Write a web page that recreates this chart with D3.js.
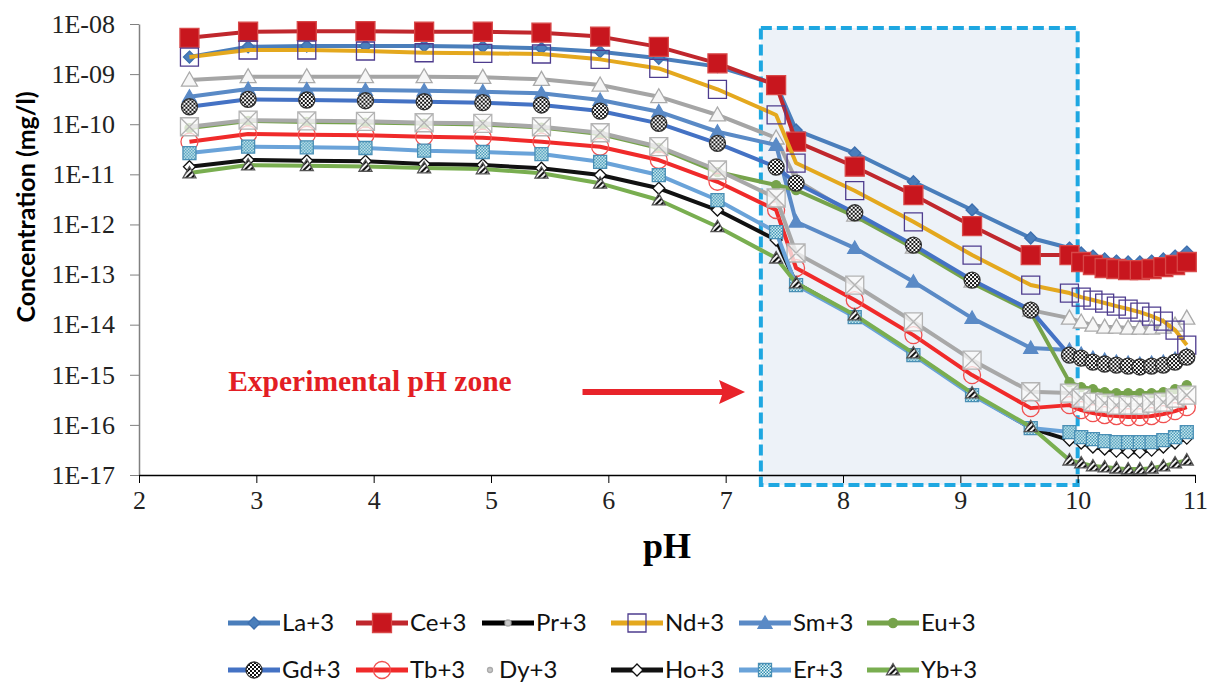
<!DOCTYPE html>
<html>
<head>
<meta charset="utf-8">
<script src="https://cdn.jsdelivr.net/npm/d3@7"></script>
<style>
  body { margin: 0; background: #fff; }
</style>
</head>
<body>
<svg id="chart" width="1214" height="688"></svg>
<script>
// pH values of the calculated points
const pH = [2.43, 2.93, 3.43, 3.93, 4.43, 4.93, 5.43, 5.93, 6.43, 6.93, 7.43, 7.6, 8.1, 8.6, 9.1, 9.6,
  9.93, 10.03, 10.13, 10.23, 10.33, 10.43, 10.53, 10.63, 10.73, 10.83, 10.93];

// concentrations (mg/l), one array per ion
const la = [2.19e-9, 3.52e-9, 3.64e-9, 3.64e-9, 3.64e-9, 3.52e-9, 3.27e-9, 2.80e-9, 2.07e-9, 1.41e-9, 6.3e-10, 7.66e-11, 2.66e-11, 7.11e-12, 1.94e-12, 5.36e-13,
  3.38e-13, 2.69e-13, 2.34e-13, 2.04e-13, 1.86e-13, 1.78e-13, 1.78e-13, 1.86e-13, 2.04e-13, 2.34e-13, 2.81e-13];
const ce = [5.3e-9, 7.0e-9, 7.2e-9, 7.2e-9, 7.0e-9, 7.0e-9, 6.7e-9, 5.6e-9, 3.5e-9, 1.64e-9, 6.05e-10, 4.48e-11, 1.42e-11, 3.86e-12, 9.29e-13, 2.45e-13,
  2.45e-13, 1.78e-13, 1.55e-13, 1.35e-13, 1.29e-13, 1.23e-13, 1.23e-13, 1.29e-13, 1.41e-13, 1.55e-13, 1.78e-13];
const pr = [7.62e-10, 8.87e-10, 8.87e-10, 8.87e-10, 8.87e-10, 8.63e-10, 7.87e-10, 6.05e-10, 3.54e-10, 1.53e-10, 5.31e-11, 7.71e-12, 1.54e-12, 3.54e-13, 7.41e-14, 1.95e-14,
  1.35e-14, 1.13e-14, 9.8e-15, 8.95e-15, 8.95e-15, 8.55e-15, 8.55e-15, 8.55e-15, 8.95e-15, 9.8e-15, 1.35e-14];
const nd = [2.19e-9, 3.03e-9, 3.03e-9, 2.89e-9, 2.67e-9, 2.60e-9, 2.52e-9, 1.97e-9, 1.30e-9, 4.98e-10, 1.53e-10, 1.68e-11, 4.71e-12, 1.13e-12, 2.45e-13, 6.17e-14,
  4.27e-14, 3.55e-14, 3.10e-14, 2.70e-14, 2.35e-14, 2.05e-14, 1.78e-14, 1.48e-14, 1.18e-14, 7.8e-15, 3.92e-15];
const sm = [3.54e-10, 5.05e-10, 4.93e-10, 4.82e-10, 4.67e-10, 4.46e-10, 4.14e-10, 3.04e-10, 1.78e-10, 7.08e-11, 3.85e-11, 1.13e-12, 3.38e-13, 7.18e-14, 1.35e-14, 3.41e-15,
  3.11e-15, 2.59e-15, 2.15e-15, 1.96e-15, 1.79e-15, 1.71e-15, 1.64e-15, 1.71e-15, 1.79e-15, 2.06e-15, 2.47e-15];
const eu = [8.39e-11, 1.16e-10, 1.11e-10, 1.08e-10, 1.03e-10, 9.86e-11, 8.59e-11, 6.37e-11, 3.35e-11, 1.11e-11, 6.11e-12, 4.86e-12, 1.47e-12, 3.38e-13, 6.76e-14, 1.78e-14,
  7.14e-16, 5.68e-16, 5.18e-16, 4.52e-16, 4.31e-16, 4.31e-16, 4.31e-16, 4.31e-16, 4.52e-16, 5.18e-16, 6.22e-16];
const gd = [2.23e-10, 3.14e-10, 3.04e-10, 2.94e-10, 2.81e-10, 2.69e-10, 2.42e-10, 1.83e-10, 1.04e-10, 4.16e-11, 1.40e-11, 6.70e-12, 1.71e-12, 3.88e-13, 7.76e-14, 1.95e-14,
  2.47e-15, 2.15e-15, 1.79e-15, 1.64e-15, 1.56e-15, 1.49e-15, 1.43e-15, 1.49e-15, 1.56e-15, 1.79e-15, 2.25e-15];
const tb = [4.48e-11, 6.37e-11, 6.17e-11, 6.00e-11, 5.62e-11, 5.38e-11, 4.48e-11, 3.56e-11, 1.93e-11, 7.11e-12, 1.94e-12, 1.35e-13, 3.10e-14, 6.19e-15, 9.86e-16, 2.16e-16,
  2.48e-16, 1.97e-16, 1.72e-16, 1.57e-16, 1.50e-16, 1.43e-16, 1.43e-16, 1.50e-16, 1.64e-16, 1.88e-16, 2.26e-16];
const dy = [8.91e-11, 1.21e-10, 1.17e-10, 1.14e-10, 1.07e-10, 1.04e-10, 8.91e-11, 6.76e-11, 3.56e-11, 1.22e-11, 3.37e-12, 2.69e-13, 6.17e-14, 1.14e-14, 1.96e-15, 4.58e-16,
  4.31e-16, 3.43e-16, 2.85e-16, 2.72e-16, 2.48e-16, 2.48e-16, 2.48e-16, 2.72e-16, 2.85e-16, 3.43e-16, 3.94e-16];
const ho = [1.42e-11, 1.93e-11, 1.87e-11, 1.82e-11, 1.60e-11, 1.53e-11, 1.32e-11, 9.68e-12, 5.26e-12, 1.94e-12, 4.89e-13, 6.76e-14, 1.48e-14, 2.59e-15, 4.12e-16, 8.63e-17,
  4.98e-17, 4.34e-17, 3.61e-17, 3.29e-17, 3.00e-17, 2.86e-17, 2.86e-17, 3.14e-17, 3.61e-17, 4.34e-17, 5.45e-17];
const er = [2.66e-11, 3.56e-11, 3.46e-11, 3.35e-11, 2.96e-11, 2.79e-11, 2.54e-11, 1.78e-11, 9.68e-12, 3.07e-12, 7.05e-13, 6.17e-14, 1.42e-14, 2.47e-15, 3.94e-16, 8.63e-17,
  7.18e-17, 5.70e-17, 5.21e-17, 4.75e-17, 4.54e-17, 4.54e-17, 4.54e-17, 4.54e-17, 4.98e-17, 5.70e-17, 7.18e-17];
const yb = [1.06e-11, 1.53e-11, 1.49e-11, 1.44e-11, 1.34e-11, 1.28e-11, 1.05e-11, 6.61e-12, 3.07e-12, 9.0e-13, 2.13e-13, 6.76e-14, 1.56e-14, 2.71e-15, 4.31e-16, 9.16e-17,
  1.98e-17, 1.73e-17, 1.51e-17, 1.44e-17, 1.37e-17, 1.31e-17, 1.31e-17, 1.37e-17, 1.51e-17, 1.73e-17, 1.98e-17];

const xTicks = [2, 3, 4, 5, 6, 7, 8, 9, 10, 11];
const yTicks = [1e-8, 1e-9, 1e-10, 1e-11, 1e-12, 1e-13, 1e-14, 1e-15, 1e-16, 1e-17];

const svg = d3.select("#chart");
const width = 1214;
const height = 688;
const margin = { top: 24, right: 19, bottom: 213, left: 139 };

const x = d3.scaleLinear().domain([2, 11]).range([margin.left, width - margin.right]);
const y = d3.scaleLog().domain([1e-17, 1e-8]).range([height - margin.bottom, margin.top]);

// patterns for the hatched markers
const defs = svg.append("defs");
const checker = defs.append("pattern").attr("id", "checker")
  .attr("patternUnits", "userSpaceOnUse").attr("width", 4).attr("height", 4);
checker.append("rect").attr("width", 4).attr("height", 4).attr("fill", "#fff");
checker.append("rect").attr("width", 2).attr("height", 2).attr("fill", "#111");
checker.append("rect").attr("x", 2).attr("y", 2).attr("width", 2).attr("height", 2).attr("fill", "#111");

const teal = defs.append("pattern").attr("id", "tealcheck")
  .attr("patternUnits", "userSpaceOnUse").attr("width", 3).attr("height", 3);
teal.append("rect").attr("width", 3).attr("height", 3).attr("fill", "#e8f6fa");
teal.append("rect").attr("width", 1.5).attr("height", 1.5).attr("fill", "#2f8fb0");
teal.append("rect").attr("x", 1.5).attr("y", 1.5).attr("width", 1.5).attr("height", 1.5).attr("fill", "#2f8fb0");

const hatch = defs.append("pattern").attr("id", "hatch")
  .attr("patternUnits", "userSpaceOnUse").attr("width", 4).attr("height", 4)
  .attr("patternTransform", "rotate(45)");
hatch.append("rect").attr("width", 4).attr("height", 4).attr("fill", "#f2f2f2");
hatch.append("rect").attr("width", 2).attr("height", 4).attr("fill", "#111");

const series = [
  { name: "La+3", values: la, color: "#4a7ebb", marker: "diamond", r: 6, fill: "#4a7ebb", stroke: "#3d6fae" },
  { name: "Ce+3", values: ce, color: "#c0272d", marker: "square", r: 9.5, fill: "#c8161e", stroke: "#d84848" },
  { name: "Pr+3", values: pr, color: "#a5a5a5", marker: "triangle", r: 8, fill: "#f6f6f6", stroke: "#aaaaaa",
    legendColor: "#000", legendR: 3 },
  { name: "Nd+3", values: nd, color: "#e4a81e", marker: "square", r: 9, fill: "none", stroke: "#4e3c8e" },
  { name: "Sm+3", values: sm, color: "#5a8ac6", marker: "triangle", r: 7, fill: "#5a8ac6", stroke: "#5a8ac6" },
  { name: "Eu+3", values: eu, color: "#76a34b", marker: "circle", r: 4.5, fill: "#76a34b", stroke: "#76a34b" },
  { name: "Gd+3", values: gd, color: "#4472c4", marker: "circle", r: 8, fill: "url(#checker)", stroke: "#333" },
  { name: "Tb+3", values: tb, color: "#f02a2a", marker: "circle", r: 8.5, fill: "none", stroke: "#f05050" },
  { name: "Dy+3", values: dy, color: "#a8a8a8", marker: "xsquare", r: 9, fill: "rgba(250,250,250,0.75)", stroke: "#b4b4b4",
    legendColor: "none", legendR: 2.5 },
  { name: "Ho+3", values: ho, color: "#111", marker: "diamond", r: 6, fill: "#fff", stroke: "#111" },
  { name: "Er+3", values: er, color: "#6aa3d9", marker: "square", r: 6.5, fill: "url(#tealcheck)", stroke: "#4a8fb5" },
  { name: "Yb+3", values: yb, color: "#79ae50", marker: "triangle", r: 6.5, fill: "url(#hatch)", stroke: "#555" }
];

function markerPath(type, h) {
  if (type === "square") return `M${-h},${-h}H${h}V${h}H${-h}Z`;
  if (type === "xsquare") return `M${-h},${-h}H${h}V${h}H${-h}Z M${-h},${-h}L${h},${h} M${h},${-h}L${-h},${h}`;
  if (type === "diamond") return `M0,${-h}L${h},0L0,${h}L${-h},0Z`;
  if (type === "triangle") return `M0,${-h}L${h},${h * 0.75}L${-h},${h * 0.75}Z`;
  return d3.symbol().type(d3.symbolCircle).size(Math.PI * h * h)();
}

// experimental zone box
const zone = { from: 7.3, to: 10, top: 10 ** -8.08 };
svg.append("rect")
  .attr("x", x(zone.from))
  .attr("y", y(zone.top))
  .attr("width", x(zone.to) - x(zone.from))
  .attr("height", y(1e-17) + 10 - y(zone.top))
  .attr("fill", "#edf2f8")
  .attr("stroke", "#1ea7e1")
  .attr("stroke-width", 4)
  .attr("stroke-dasharray", "11,5");

// axes
const yAxis = svg.append("g")
  .attr("transform", `translate(${margin.left},0)`)
  .call(d3.axisLeft(y).tickValues(yTicks).tickSize(9).tickSizeOuter(0)
    .tickFormat((d) => "1E-" + String(-Math.round(Math.log10(d))).padStart(2, "0")));
yAxis.select(".domain").attr("stroke", "#808080").attr("stroke-width", 1.5);
yAxis.selectAll(".tick line").attr("stroke", "#808080");
yAxis.selectAll("text")
  .attr("x", -24)
  .style("font-family", "'Liberation Serif', 'Times New Roman', serif")
  .style("font-size", "26px")
  .attr("fill", "#222");

const xAxis = svg.append("g")
  .attr("transform", `translate(0,${y(1e-17)})`)
  .call(d3.axisBottom(x).tickValues(xTicks).tickSize(8).tickSizeOuter(0).tickFormat(d3.format("d")));
xAxis.select(".domain").attr("stroke", "#000").attr("stroke-width", 1.5);
xAxis.selectAll(".tick line").attr("stroke", "#000");
xAxis.selectAll("text")
  .attr("y", 16)
  .style("font-family", "'Liberation Serif', 'Times New Roman', serif")
  .style("font-size", "26px")
  .attr("fill", "#222");

// lines and markers, series by series
const line = d3.line().x((d, i) => x(pH[i])).y((d) => y(d));
series.forEach((s) => {
  const g = svg.append("g");
  g.append("path")
    .attr("d", line(s.values))
    .attr("fill", "none")
    .attr("stroke", s.color)
    .attr("stroke-width", 4)
    .attr("stroke-linejoin", "round");
  g.selectAll("path.mk")
    .data(s.values)
    .enter()
    .append("path")
    .attr("class", "mk")
    .attr("transform", (d, i) => `translate(${x(pH[i])},${y(d)})`)
    .attr("d", markerPath(s.marker, s.r))
    .attr("fill", s.fill)
    .attr("stroke", s.stroke)
    .attr("stroke-width", 1.3);
});

// axis titles
svg.append("text")
  .attr("transform", "translate(26,207) rotate(-90)")
  .attr("text-anchor", "middle")
  .attr("dy", "0.35em")
  .style("font-family", "Lato, 'Open Sans', sans-serif")
  .style("font-weight", "bold")
  .style("font-size", "25px")
  .text("Concentration (mg/l)");

svg.append("text")
  .attr("x", (x(2) + x(11)) / 2)
  .attr("y", 558)
  .attr("text-anchor", "middle")
  .style("font-family", "'Liberation Serif', 'Times New Roman', serif")
  .style("font-weight", "bold")
  .style("font-size", "36px")
  .text("pH");

// annotation
svg.append("text")
  .attr("x", x(2.76))
  .attr("y", y(10 ** -15.11))
  .attr("dy", "0.35em")
  .attr("fill", "#e31e24")
  .style("font-family", "'Liberation Serif', 'Times New Roman', serif")
  .style("font-weight", "bold")
  .style("font-size", "29.5px")
  .text("Experimental pH zone");

const arrowY = y(10 ** -15.345);
const ax0 = x(5.78);
const ax1 = x(7.165);
svg.append("line")
  .attr("x1", ax0).attr("x2", ax1 - 18)
  .attr("y1", arrowY).attr("y2", arrowY)
  .attr("stroke", "#e8232a").attr("stroke-width", 6);
svg.append("path")
  .attr("d", `M${ax1},${arrowY}L${ax1 - 26},${arrowY - 12}L${ax1 - 22},${arrowY}L${ax1 - 26},${arrowY + 12}Z`)
  .attr("fill", "#e8232a");

// legend
const colX = [228, 356, 482, 611, 739, 867];
const rowY = [623, 670];
series.forEach((s, i) => {
  const gx = colX[i % 6];
  const gy = rowY[Math.floor(i / 6)];
  const g = svg.append("g").attr("transform", `translate(${gx},${gy})`);
  const lc = s.legendColor || s.color;
  if (lc !== "none") {
    g.append("line").attr("x1", 0).attr("x2", 52).attr("y1", 0).attr("y2", 0)
      .attr("stroke", lc).attr("stroke-width", 5);
  }
  g.append("path")
    .attr("transform", `translate(${lc === "none" ? 8 : 26},0)`)
    .attr("d", markerPath(s.legendR ? "circle" : s.marker, s.legendR || s.r))
    .attr("fill", s.legendR ? "#c8c8c8" : s.fill)
    .attr("stroke", s.legendR ? "#aaa" : s.stroke)
    .attr("stroke-width", 1.3);
  g.append("text")
    .attr("x", lc === "none" ? 17 : 54)
    .attr("dy", "0.35em")
    .style("font-family", "Lato, 'Open Sans', sans-serif")
    .style("font-size", "24px")
    .attr("fill", "#111")
    .text(s.name);
});
</script>
</body>
</html>
